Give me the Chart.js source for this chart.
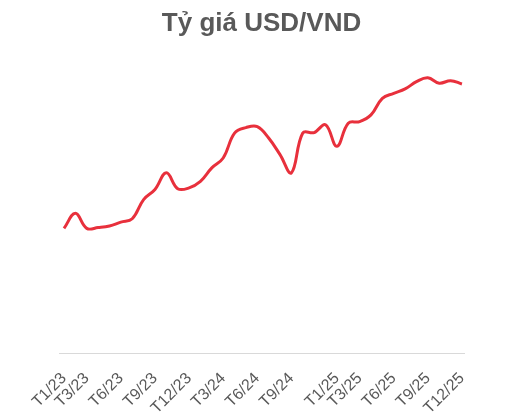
<!DOCTYPE html>
<html>
<head>
<meta charset="utf-8">
<script src="https://cdn.jsdelivr.net/npm/chart.js@4/dist/chart.umd.min.js"></script>
<style>
html,body{margin:0;padding:0;background:#fff;}
#wrap{width:526px;height:419px;position:relative;}
</style>
</head>
<body>
<div id="wrap"><canvas id="c" width="526" height="419"></canvas></div>
<script>
// Monthly USD/VND rate, T1/23 .. T12/25 (month index 0..35)
const months = [
  "T1/23","T2/23","T3/23","T4/23","T5/23","T6/23","T7/23","T8/23","T9/23","T10/23","T11/23","T12/23",
  "T1/24","T2/24","T3/24","T4/24","T5/24","T6/24","T7/24","T8/24","T9/24","T10/24","T11/24","T12/24",
  "T1/25","T2/25","T3/25","T4/25","T5/25","T6/25","T7/25","T8/25","T9/25","T10/25","T11/25","T12/25"
];
const rates = [
  23450, 23740, 23450, 23465, 23495, 23570, 23635, 24005, 24200, 24520, 24215, 24230,
  24355, 24615, 24805, 25285, 25390, 25410, 25190, 24870, 24520, 25285, 25295, 25445,
  25030, 25475, 25505, 25635, 25955, 26050, 26135, 26275, 26350, 26245, 26295, 26230
];
const tickLabels = ["T1/23","T3/23","T6/23","T9/23","T12/23","T3/24","T6/24","T9/24","T1/25","T3/25","T6/25","T9/25","T12/25"];
const chartTitle = "Tỷ giá USD/VND";

const points = rates.map((v, i) => ({x: i, y: v}));
const tickIdx = tickLabels.map(l => months.indexOf(l));

new Chart(document.getElementById('c'), {
  type: 'line',
  data: {
    datasets: [{
      data: points,
      borderColor: '#E8303C',
      borderWidth: 3,
      pointRadius: 0,
      tension: 0.4,
      fill: false
    }]
  },
  options: {
    responsive: false,
    animation: false,
    layout: {padding: {left: 59, right: 62, top: 0, bottom: 0}},
    plugins: {
      legend: {display: false},
      tooltip: {enabled: false},
      title: {
        display: true,
        text: chartTitle,
        color: '#595959',
        font: {family: 'Liberation Sans, Arial, sans-serif', size: 26, weight: 'bold'},
        padding: {top: 8, bottom: 23}
      }
    },
    scales: {
      x: {
        type: 'linear',
        min: -0.44,
        max: 35.18,
        afterBuildTicks: (s) => { s.ticks = tickIdx.map(v => ({value: v})); },
        afterFit: (s) => { s.height = 66; },
        grid: {display: false, drawTicks: false},
        border: {display: true, color: '#d9d9d9', width: 1},
        ticks: {
          autoSkip: false,
          minRotation: 45,
          maxRotation: 45,
          padding: 16,
          color: '#595959',
          font: {family: 'Liberation Sans, Arial, sans-serif', size: 16},
          callback: (v) => months[v]
        }
      },
      y: {
        display: false,
        min: 21050,
        max: 26650
      }
    }
  }
});
</script>
</body>
</html>
